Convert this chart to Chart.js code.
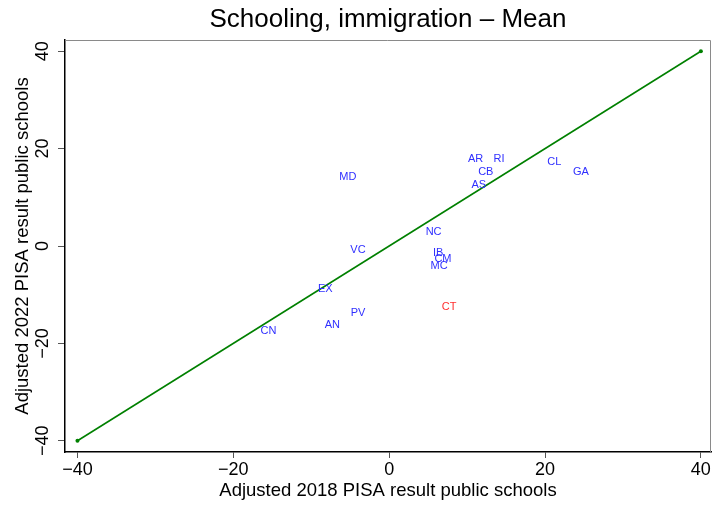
<!DOCTYPE html>
<html><head><meta charset="utf-8">
<script src="https://cdn.jsdelivr.net/npm/chart.js@4/dist/chart.umd.min.js"></script>
<style>html,body{margin:0;padding:0;background:#fff}#wrap{width:712px;height:506px}</style>
</head><body><div id="wrap"><canvas id="c" width="712" height="506"></canvas></div>
<script>
// Data
const labels  = ['AR','RI','CL','GA','CB','AS','MD','NC','VC','IB','CM','MC','EX','CT','PV','AN','CN'];
const x2018   = [11.1,14.1,21.2,24.6,12.4,11.5,-5.3,5.7,-4.0,6.3,6.9,6.4,-8.2,7.7,-4.0,-7.3,-15.5];
const y2022   = [17.9,17.9,17.2,15.2,15.2,12.5,14.2,2.8,-0.9,-1.4,-2.7,-4.1,-8.8,-12.5,-13.7,-16.2,-17.5];
const highlighted = ['CT'];
const diagX = [-40, 40];
const diagY = [-40, 40];
const tickValues = [-40, -20, 0, 20, 40];

const FONT = '"Liberation Sans", Arial, Helvetica, sans-serif';
const BLUE = '#2f2fff';
const RED = '#ff3030';
const GREEN = '#008000';

const fmt = v => String(v).replace('-', '\u2212');

const textLabels = {
  id: 'textLabels',
  afterDatasetsDraw(chart) {
    const meta = chart.getDatasetMeta(1);
    const ctx = chart.ctx;
    ctx.save();
    ctx.font = '11px ' + FONT;
    ctx.textAlign = 'center';
    ctx.textBaseline = 'middle';
    meta.data.forEach((el, i) => {
      ctx.fillStyle = highlighted.includes(labels[i]) ? RED : BLUE;
      ctx.fillText(labels[i], el.x, el.y);
    });
    ctx.restore();
  }
};

const frame = {
  id: 'frame',
  beforeDatasetsDraw(chart) {
    const a = chart.chartArea, ctx = chart.ctx;
    ctx.save();
    ctx.strokeStyle = '#8a8a8a';
    ctx.lineWidth = 1;
    ctx.beginPath();
    ctx.moveTo(a.left, a.top + 0.5);
    ctx.lineTo(a.right - 0.5, a.top + 0.5);
    ctx.lineTo(a.right - 0.5, a.bottom);
    ctx.stroke();
    ctx.restore();
  }
};

new Chart(document.getElementById('c'), {
  type: 'scatter',
  data: {
    datasets: [
      {
        data: diagX.map((x, i) => ({x, y: diagY[i]})),
        showLine: true,
        borderColor: GREEN,
        borderWidth: 1.6,
        pointRadius: 2,
        pointBackgroundColor: GREEN,
        pointBorderColor: GREEN,
        pointBorderWidth: 0,
        clip: false
      },
      {
        data: x2018.map((x, i) => ({x, y: y2022[i]})),
        pointRadius: 0,
        pointHoverRadius: 0,
        clip: false
      }
    ]
  },
  options: {
    responsive: false,
    devicePixelRatio: 1,
    animation: false,
    events: [],
    layout: { autoPadding: false, padding: { left: 0, right: 1, top: 0, bottom: 0 } },
    plugins: {
      legend: { display: false },
      tooltip: { enabled: false },
      title: {
        display: true,
        text: 'Schooling, immigration \u2013 Mean',
        fullSize: false,
        color: '#000',
        font: { family: FONT, size: 26, weight: 'normal', lineHeight: 1.2 },
        padding: { top: 4, bottom: 4.8 }
      }
    },
    scales: {
      x: {
        type: 'linear',
        min: -41.6, max: 41.3,
        afterBuildTicks: s => { s.ticks = tickValues.map(v => ({value: v})); },
        afterFit: s => { s.height = 54; s.paddingLeft = 0; s.paddingRight = 0; },
        grid: { drawOnChartArea: false, drawTicks: true, tickLength: 6, color: '#555', lineWidth: 1 },
        border: { display: true, color: '#000', width: 1.5 },
        ticks: { color: '#000', padding: 1, maxRotation: 0, autoSkip: false,
                 font: { family: FONT, size: 18 }, callback: v => fmt(v) },
        title: { display: true, text: 'Adjusted 2018 PISA result public schools', color: '#000',
                 font: { family: FONT, size: 18.5 }, padding: { top: 0, bottom: 4 } }
      },
      y: {
        type: 'linear',
        min: -42.3, max: 42.3,
        afterBuildTicks: s => { s.ticks = tickValues.map(v => ({value: v})); },
        afterFit: s => { s.width = 65; s.paddingTop = 0; s.paddingBottom = 0; },
        grid: { drawOnChartArea: false, drawTicks: true, tickLength: 7, color: '#555', lineWidth: 1 },
        border: { display: true, color: '#000', width: 1.5 },
        ticks: { color: '#000', padding: 0, minRotation: 90, maxRotation: 90, crossAlign: 'center', autoSkip: false,
                 font: { family: FONT, size: 18 }, callback: v => fmt(v) },
        title: { display: true, text: 'Adjusted 2022 PISA result public schools', color: '#000',
                 font: { family: FONT, size: 18.5 }, padding: { top: 12, bottom: 0 } }
      }
    }
  },
  plugins: [frame, textLabels]
});
</script></body></html>
